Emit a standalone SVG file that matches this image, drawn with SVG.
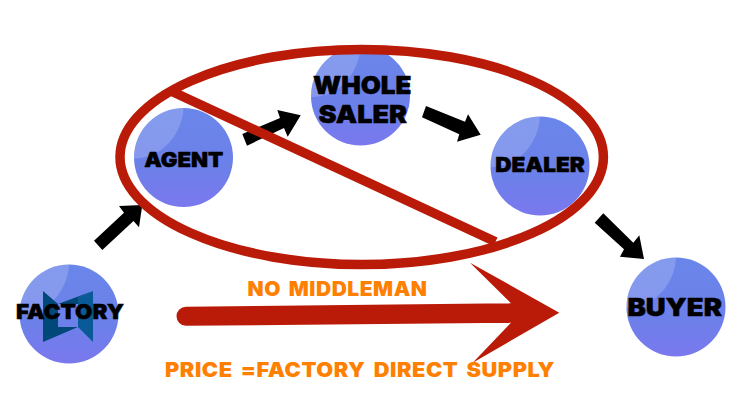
<svg xmlns="http://www.w3.org/2000/svg" width="750" height="400" viewBox="0 0 750 400">
  <style>
    .ball { fill: url(#ballFill); }
    .shine { fill: #ffffff; fill-opacity: 0.18; }
    .lbl { font-family: "Inter", "Liberation Sans", Arial, sans-serif; font-weight: 900; fill: #000; stroke: #000; stroke-width: 0.5; stroke-linejoin: round; }
    .note { font-family: "Inter", "Liberation Sans", Arial, sans-serif; font-weight: 900; font-size: 20px; fill: #ff8000; word-spacing: 3px; letter-spacing: 0.5px; }
    .red { fill: #ba1a08; }
    .redline { fill: none; stroke: #ba1a08; stroke-width: 9.5; }
  </style>
  <defs>
    <linearGradient id="ballFill" x1="0" y1="0" x2="0" y2="1">
      <stop offset="0" stop-color="#6a86ea"/>
      <stop offset="0.6" stop-color="#6c80e9"/>
      <stop offset="1" stop-color="#7a78ee"/>
    </linearGradient>
    <g id="ballShape">
      <circle class="ball" r="49.5"/>
      <path class="shine" d="M0,-49.5 C-1,-25 -20,1 -49.5,1 A49.5,49.5 0 0 1 0,-49.5 Z"/>
    </g>
  </defs>
  <rect width="750" height="400" fill="#ffffff"/>

  <g id="node-factory">
    <use href="#ballShape" x="69" y="314"/>
    <polygon points="43,291 58,304 58,327 78,327 43,342" fill="#004878"/>
    <polygon points="58,304 93,291 78,298 78,304" fill="#004878"/>
    <polygon points="78,298 93,291 93,342 78,327" fill="#0b5a98"/>
    <text class="lbl" x="16" y="319" font-size="20.5" textLength="108" lengthAdjust="spacingAndGlyphs">FACTORY</text>
  </g>
  <g id="node-agent">
    <use href="#ballShape" x="183.5" y="157.5"/>
    <text class="lbl" x="144.3" y="166.5" font-size="20.5" textLength="79" lengthAdjust="spacingAndGlyphs">AGENT</text>
  </g>
  <g id="node-wholesaler">
    <use href="#ballShape" x="360.5" y="96"/>
    <text class="lbl" x="313" y="94" font-size="25" textLength="98.5" lengthAdjust="spacingAndGlyphs">WHOLE</text>
    <text class="lbl" x="318.5" y="122.5" font-size="25" textLength="88.5" lengthAdjust="spacingAndGlyphs">SALER</text>
  </g>
  <g id="node-dealer">
    <use href="#ballShape" x="540" y="166"/>
    <text class="lbl" x="495.3" y="171.5" font-size="20.5" textLength="89.5" lengthAdjust="spacingAndGlyphs">DEALER</text>
  </g>
  <g id="node-buyer">
    <use href="#ballShape" x="676" y="307"/>
    <text class="lbl" x="627.5" y="315.5" font-size="24" textLength="94.5" lengthAdjust="spacingAndGlyphs">BUYER</text>
  </g>

  <g id="connectors">
    <polygon points="94,240.7 124,212.7 119,206 142.3,205 139,227.3 133.5,221 102.3,250" fill="#000"/>
    <polygon points="242.3,134 280,118 277.3,110 300.7,115.3 287.7,136.7 284,128 247,145.7" fill="#000"/>
    <polygon points="426,106 465,121.7 468,114.3 480.7,134.7 457,141.7 459.3,134.3 422,117.3" fill="#000"/>
    <polygon points="603.3,213.3 633.3,242.7 639.3,235.3 644,259 620,256.7 624,249.3 594.7,222.7" fill="#000"/>
    <path class="red" d="M186,306.8 L511,303.3 L470,262.7 L559.3,312.7 L472.7,362.7 L511,322.7 L186,325.8 A9.5,9.5 0 0 1 186,306.8 Z"/>
  </g>

  <g id="prohibition">
    <ellipse class="redline" cx="361.7" cy="157" rx="241.7" ry="107.5"/>
    <line class="redline" x1="172" y1="91.5" x2="495.5" y2="241.7"/>
  </g>

  <text class="note" x="247.5" y="295.5" textLength="180" lengthAdjust="spacingAndGlyphs">NO MIDDLEMAN</text>
  <text class="note" x="165" y="377" textLength="390" lengthAdjust="spacingAndGlyphs">PRICE =FACTORY DIRECT SUPPLY</text>
</svg>
